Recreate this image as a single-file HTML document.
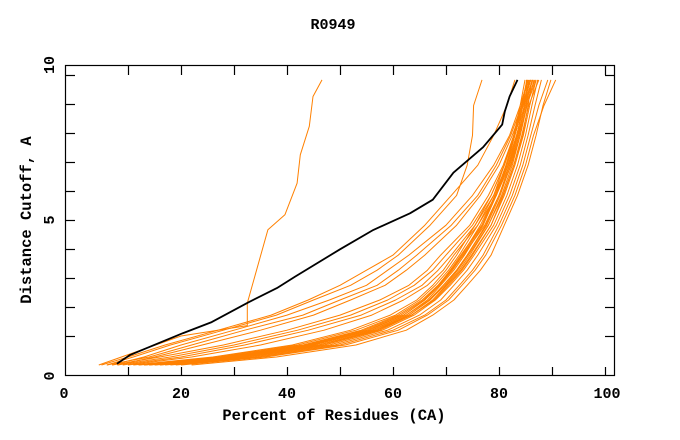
<!DOCTYPE html>
<html><head><meta charset="utf-8"><style>
html,body{margin:0;padding:0;background:#fff;}
svg{display:block;font-family:"Liberation Mono",monospace;font-weight:bold;}
</style></head><body>
<svg id="chart" width="680" height="440" viewBox="0 0 680 440">
<text x="333" y="29" font-size="15" text-anchor="middle">R0949</text>
<text x="334" y="420" font-size="15.5" text-anchor="middle">Percent of Residues (CA)</text>
<text x="0" y="0" font-size="15.5" text-anchor="middle" transform="translate(31,220) rotate(-90)">Distance Cutoff, A</text>
<g id="series"></g>
<g id="axes"></g>
</svg>
<script>
const xTicks = [10,20,30,40,50,60,70,80,90,100];
const xTickLabels = [0,20,40,60,80,100];
const yTicks = [1,2,3,4,5,6,7,8,9,10];
const yTickLabels = [0,5,10];
const cutoffLevels = [0,0.275,0.69,1.2,1.72,2.24,2.75,3.27,3.79,4.82,5.85,6.89,7.92,8.95,9.83];
const blackX = [7.9,10.4,20.4,25.8,32.5,38.1,41.5,50,56.3,63.2,67.5,71.4,77,80.6,81.1,82,83.5];
const blackY = [0.04,0.35,1.1,1.48,2.14,2.65,3.04,3.99,4.66,5.23,5.7,6.63,7.51,8.29,8.74,9.26,9.83];
const outlierX = [4.5,20,32.5,32.5,36.4,39.6,41.9,42.5,44.2,44.9,46.6];
const outlierY = [0,1,1.36,2.135,4.665,5.18,6.27,7.25,8.23,9.26,9.83];
const orangeSeries = [
 [12,27,42,53,60.5,65,68,70.5,72.5,76,79,81,82.8,84.3,85.5],
 [13,28,43,54,61,65.5,68.5,71,73,76.5,79.3,81.3,83,84.5,86],
 [14,30,45,56,62.5,66.5,69,71.5,73.5,77,79.5,81.5,83,84.5,85.8],
 [15,31,46,57,63,67,69.5,72,74,77.5,80,82,83.5,85,86.3],
 [16,32,47,57.5,63.5,67.5,70,72.5,74.5,78,80.5,82.5,84,85.3,86.6],
 [12,28,44,55,62,66,68.8,71.2,73.2,76.8,79.2,81.8,83.6,85,86.8],
 [13,30,46,57,63.5,67.8,70.5,73,75,78.5,81,83,84.6,85.8,87],
 [17,33,48,58,64,68,70.8,73.3,75.3,79,81.5,83.5,85,86.2,87.3],
 [18,34,49,59,65,69,71.5,74,76,79.5,82,84,85.5,86.8,88],
 [14,29,44.5,55.5,62,66,68.7,71,73.3,77.3,80,82.3,84,85.2,85.2],
 [20,36,51,61,66.5,70.5,73,75.5,77.5,80.5,83,85,86.5,88.5,90.7],
 [19,35,50,60,66,70,72.5,75,77,80,82.5,84.5,86,87.5,89.2],
 [15,31,46,56.5,63,67,69.8,72.2,74.2,78,80.7,82.8,84.3,85.6,87.5],
 [11,26,41,52,59.5,64.5,67.5,70,72,75.5,78.5,81,82.8,84,84.9],
 [16,32,47,57,63.5,67.5,70.2,72.8,74.8,78.5,80.8,82.8,84.5,85.5,86.2],
 [13,29,45,56,62.5,66.8,69.5,72,74,77.7,80.2,82.2,83.8,84.8,85.6],
 [22,38,53,62.5,67.5,71.5,74,76.5,78.5,81,83.5,85.5,87,88.3,89.8],
 [14,28,43.5,54.5,61.5,65.8,68.5,70.8,72.8,76.8,79.5,81.7,83.4,84.5,85.2],
 [8,18,30,42,52,59,64,67.5,70,75,78.5,81,83,84.5,86],
 [9,20,32,44,54,60.5,65.5,68.5,71,75.5,79,81.5,83.3,84.8,86.4],
 [10,22,35,47,56,62,66.5,69.5,71.5,76,79.5,82,83.8,85.2,87],
 [7,16,28,40,50,57.5,63,66.5,69,74.5,78,80.8,82.8,84.2,85.3],
 [7,13,20,30,40,48,55,59,63,70,75,79,82,84,85.5],
 [6,14,22,32,43,50,57,61,64.5,71,76,79.5,82.2,84.3,86],
 [8,15,24,35,45,52,58.5,62.5,66,72,76.5,80,82.5,84.6,86.3],
 [5,10,17,27,37,44,50,55,60,66,71,76,79,81.5,83],
 [6,11,18,28,38,45,52,57,61,67,72,74,75,75.2,76.8]
];
const X0=75, XS=5.3, Y0=365, YS=29;
function sx(v){return X0+v*XS;}
function sy(v){return Y0-v*YS;}
const NS='http://www.w3.org/2000/svg';
const g=document.getElementById('series');
const ax=document.getElementById('axes');
function poly(xs,ys,color,w){
 const p=document.createElementNS(NS,'polyline');
 p.setAttribute('points',xs.map((x,i)=>sx(x).toFixed(1)+','+sy(ys[i]).toFixed(1)).join(' '));
 p.setAttribute('fill','none');p.setAttribute('stroke',color);p.setAttribute('stroke-width',w);
 p.setAttribute('stroke-linejoin','round');
 g.appendChild(p);return p;
}
orangeSeries.forEach((xs,i)=>{
 const p=poly(xs,cutoffLevels,'#ff8000',1);
 
 
});
const po=poly(outlierX,outlierY,'#ff8000',1);


const pb=poly(blackX,blackY,'#000',1.8);


const fr=document.createElementNS(NS,'rect');
fr.setAttribute('x',65.5);fr.setAttribute('y',65.5);fr.setAttribute('width',549);fr.setAttribute('height',310);
fr.setAttribute('fill','none');fr.setAttribute('stroke','#000');fr.setAttribute('stroke-width',1.2);


ax.appendChild(fr);
function line(x1,y1,x2,y2){
 const l=document.createElementNS(NS,'line');
 l.setAttribute('x1',x1);l.setAttribute('y1',y1);l.setAttribute('x2',x2);l.setAttribute('y2',y2);
 l.setAttribute('stroke','#000');l.setAttribute('stroke-width',1.2);
 ax.appendChild(l);return l;
}
xTicks.forEach(v=>{
 const x=Math.round(sx(v))+0.5;
 const a=line(x,375.5,x,367);
 
 
 const b=line(x,65.5,x,75);
 
 
});
yTicks.forEach(v=>{
 const y=Math.round(sy(v))+0.5;
 const a=line(65.5,y,75,y);
 
 
 const b=line(614.5,y,605,y);
 
 
});
xTickLabels.forEach(v=>{
 const t=document.createElementNS(NS,'text');
 let x=sx(v); if(v===0)x=64; if(v===100)x=607;
 t.setAttribute('x',x);t.setAttribute('y',398);t.setAttribute('font-size','15');t.setAttribute('text-anchor','middle');
 t.textContent=v;
 
 
 ax.appendChild(t);
});
yTickLabels.forEach(v=>{
 const t=document.createElementNS(NS,'text');
 let y=sy(v); if(v===10)y=65; if(v===0)y=376;
 t.setAttribute('transform','translate(54,'+y+') rotate(-90)');
 t.setAttribute('font-size','15');t.setAttribute('text-anchor','middle');
 t.textContent=v;
 
 
 ax.appendChild(t);
});
</script>
</body></html>
